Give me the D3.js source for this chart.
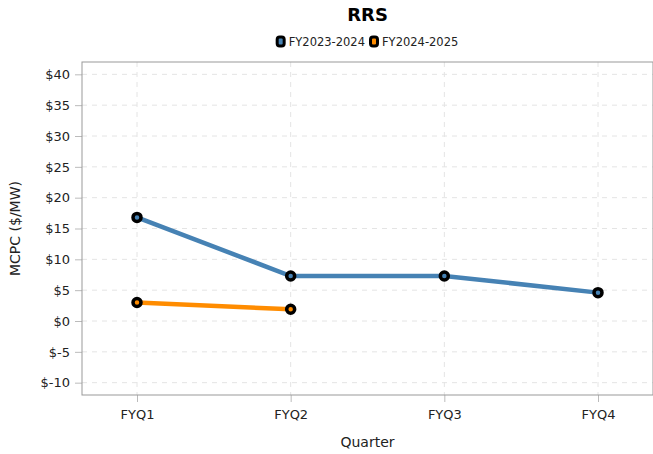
<!DOCTYPE html>
<html>
<head>
<meta charset="utf-8">
<script src="https://cdn.jsdelivr.net/npm/d3@7"></script>
<style>
  body { margin: 0; background: #fff; }
  text { font-family: "DejaVu Sans", Verdana, sans-serif; }
</style>
</head>
<body>
<svg id="chart" width="653" height="454"></svg>
<script>
const quarters = ['FYQ1', 'FYQ2', 'FYQ3', 'FYQ4'];
const seriesNames = ['FY2023-2024', 'FY2024-2025'];
const seriesColors = ['#4682b4', '#ff8c00'];
const fy2324 = [16.8, 7.3, 7.3, 4.6];
const fy2425 = [3.0, 1.9];
const yTicks = [-10, -5, 0, 5, 10, 15, 20, 25, 30, 35, 40];

const svg = d3.select('#chart');
const margin = { top: 62, right: 0, bottom: 59, left: 82 };
const width = +svg.attr('width');
const height = +svg.attr('height');
const plotW = width - margin.left - margin.right;
const plotH = height - margin.top - margin.bottom;

const x = d3.scalePoint()
    .domain(quarters)
    .range([55, plotW - 55]);

const y = d3.scaleLinear()
    .domain([-12, 42])
    .range([plotH, 0]);

const g = svg.append('g')
    .attr('transform', `translate(${margin.left},${margin.top})`);

// grid
g.selectAll('.hgrid')
    .data(yTicks)
    .enter()
    .append('line')
    .attr('x1', 0)
    .attr('x2', plotW)
    .attr('y1', d => y(d))
    .attr('y2', d => y(d))
    .attr('stroke', '#e4e4e4')
    .attr('stroke-dasharray', '5,5');

g.selectAll('.vgrid')
    .data(quarters)
    .enter()
    .append('line')
    .attr('x1', d => x(d))
    .attr('x2', d => x(d))
    .attr('y1', 0)
    .attr('y2', plotH)
    .attr('stroke', '#e4e4e4')
    .attr('stroke-dasharray', '5,5');

// axes
const yAxis = g.append('g')
    .call(d3.axisLeft(y).tickValues(yTicks).tickFormat(d => '$' + d).tickSize(7).tickPadding(5));
const xAxis = g.append('g')
    .attr('transform', `translate(0,${plotH})`)
    .call(d3.axisBottom(x).tickSize(7).tickPadding(8));

[yAxis, xAxis].forEach(a => {
    a.select('.domain').remove();
    a.selectAll('.tick line').attr('stroke', '#bbb');
    a.selectAll('.tick text').attr('fill', '#222').style('font-size', '13px');
});

// frame
g.append('rect')
    .attr('x', 0)
    .attr('y', 0)
    .attr('width', plotW)
    .attr('height', plotH)
    .attr('fill', 'none')
    .attr('stroke', '#999');

// series
const series = [fy2324, fy2425];
const line = d3.line()
    .x((d, i) => x(quarters[i]))
    .y(d => y(d));

series.forEach((vals, si) => {
    g.append('path')
        .datum(vals)
        .attr('d', line)
        .attr('fill', 'none')
        .attr('stroke', seriesColors[si])
        .attr('stroke-width', 4.5);
    g.selectAll('.pt' + si)
        .data(vals)
        .enter()
        .append('circle')
        .attr('cx', (d, i) => x(quarters[i]))
        .attr('cy', d => y(d))
        .attr('r', 4)
        .attr('fill', seriesColors[si])
        .attr('stroke', '#000')
        .attr('stroke-width', 3.5);
});

// title
const cx = margin.left + plotW / 2;
svg.append('text')
    .attr('x', cx)
    .attr('y', 21)
    .attr('text-anchor', 'middle')
    .style('font-size', '18px')
    .style('font-weight', 'bold')
    .text('RRS');

// legend
const legend = svg.append('g');
let lx = 0;
seriesNames.forEach((name, i) => {
    const item = legend.append('g').attr('transform', `translate(${lx},0)`);
    item.append('rect')
        .attr('x', 0.5)
        .attr('y', -5)
        .attr('width', 7)
        .attr('height', 9)
        .attr('rx', 2.5)
        .attr('fill', seriesColors[i])
        .attr('stroke', '#000')
        .attr('stroke-width', 3);
    const t = item.append('text')
        .attr('x', 12)
        .attr('y', 4)
        .style('font-size', '11.5px')
        .attr('fill', '#222')
        .text(name);
    lx += 12 + t.node().getComputedTextLength() + 5;
});
const lw = lx - 5;
legend.attr('transform', `translate(${cx - lw / 2},42)`);

// axis titles
svg.append('text')
    .attr('x', cx)
    .attr('y', 447)
    .attr('text-anchor', 'middle')
    .style('font-size', '14px')
    .attr('fill', '#222')
    .text('Quarter');

svg.append('text')
    .attr('transform', `translate(20,${margin.top + plotH / 2}) rotate(-90)`)
    .attr('text-anchor', 'middle')
    .style('font-size', '14px')
    .attr('fill', '#222')
    .text('MCPC ($/MW)');
</script>
</body>
</html>
